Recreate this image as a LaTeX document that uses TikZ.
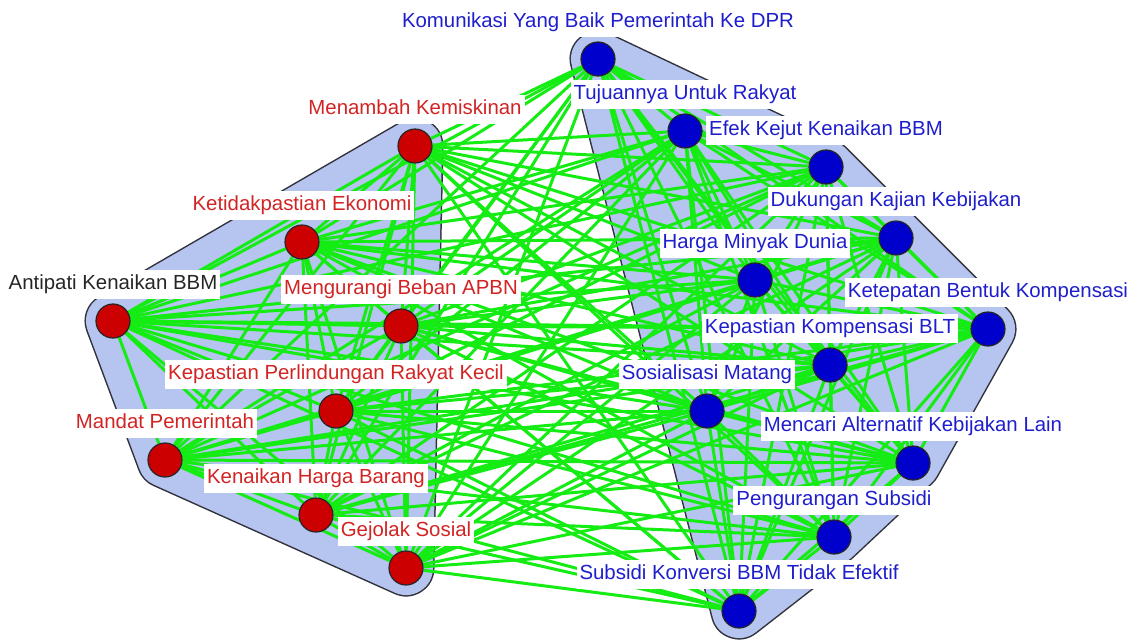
\documentclass[tikz,border=0pt]{standalone}
\usepackage{fontspec}
\setmainfont{Liberation Sans}
\usetikzlibrary{calc}
\pgfdeclarelayer{paper}
\pgfdeclarelayer{hull}
\pgfdeclarelayer{edges}
\pgfsetlayers{paper,hull,edges,main}
\definecolor{hullfill}{RGB}{182,196,240}
\definecolor{hullline}{RGB}{50,50,60}
\definecolor{edgegreen}{RGB}{20,236,20}
\definecolor{redfill}{RGB}{204,0,0}
\definecolor{bluefill}{RGB}{0,0,204}
\definecolor{redtext}{RGB}{210,36,36}
\definecolor{bluetext}{RGB}{30,30,205}
\begin{document}
\begin{tikzpicture}[x=1pt,y=-1pt,
  vtx/.style={circle, minimum size=34pt, inner sep=0pt, draw=black!85, line width=1.2pt},
  redv/.style={vtx, fill=redfill},
  bluev/.style={vtx, fill=bluefill},
  lab/.style={fill=white, inner xsep=3pt, inner ysep=5pt, text height=14.5pt, text depth=4.5pt,
              font=\fontsize{20.4}{24}\selectfont},
  redlab/.style={lab, text=redtext},
  bluelab/.style={lab, text=bluetext},
  edge/.style={draw=edgegreen, line width=3pt},
  hullout/.style={draw=hullline, fill=hullline, line join=round, line width=57pt},
  hullin/.style={draw=hullfill, fill=hullfill, line join=round, line width=54pt}]
\useasboundingbox (0,0) rectangle (1137,640);
\begin{pgfonlayer}{paper}
  \fill[white] (0,0) rectangle (1137,640);
\end{pgfonlayer}

% left group (red)
\node[redv] (n1) at (415,146) {};
\node[redv] (n2) at (302,242) {};
\node[redv] (n3) at (113,321) {};
\node[redv] (n4) at (401,326) {};
\node[redv] (n5) at (336,411) {};
\node[redv] (n6) at (165,460) {};
\node[redv] (n7) at (316,515) {};
\node[redv] (n8) at (406,568) {};
% right group (blue)
\node[bluev] (n9) at (598,59) {};
\node[bluev] (n10) at (685,131) {};
\node[bluev] (n11) at (826,167) {};
\node[bluev] (n12) at (896,238) {};
\node[bluev] (n13) at (755,280) {};
\node[bluev] (n14) at (988,329) {};
\node[bluev] (n15) at (830,365) {};
\node[bluev] (n16) at (707,411) {};
\node[bluev] (n17) at (913,463) {};
\node[bluev] (n18) at (834,537) {};
\node[bluev] (n19) at (739,611) {};

% group hulls
\begin{pgfonlayer}{hull}
  \path[hullout] (n1.center) -- (n3.center) -- (n6.center) -- (n8.center) -- cycle;
  \path[hullin]  (n1.center) -- (n3.center) -- (n6.center) -- (n8.center) -- cycle;
  \path[hullout] (n9.center) -- (n11.center) -- (n14.center) -- (n17.center) -- (n18.center) -- (n19.center) -- cycle;
  \path[hullin]  (n9.center) -- (n11.center) -- (n14.center) -- (n17.center) -- (n18.center) -- (n19.center) -- cycle;
\end{pgfonlayer}

% connectors
\begin{pgfonlayer}{edges}
  \foreach \i in {1,...,18}{
    \pgfmathtruncatemacro{\k}{\i+1}
    \foreach \j in {\k,...,19}{
      \draw[edge] (n\i) -- (n\j);
    }
  }
\end{pgfonlayer}

% labels
\node[redlab] (t1) at ($(n1)+(0,-37)$) {Menambah Kemiskinan};
\node[redlab] (t2) at ($(n2)+(0,-37)$) {Ketidakpastian Ekonomi};
\node[lab, text=black!85] (t3) at ($(n3)+(0,-37)$) {Antipati Kenaikan BBM};
\node[redlab] (t4) at ($(n4)+(0,-37)$) {Mengurangi Beban APBN};
\node[redlab] (t5) at ($(n5)+(0,-37)$) {Kepastian Perlindungan Rakyat Kecil};
\node[redlab] (t6) at ($(n6)+(0,-37)$) {Mandat Pemerintah};
\node[redlab] (t7) at ($(n7)+(0,-37)$) {Kenaikan Harga Barang};
\node[redlab] (t8) at ($(n8)+(0,-37)$) {Gejolak Sosial};
\node[bluelab] (t9) at ($(n9)+(0,-37)$) {Komunikasi Yang Baik Pemerintah Ke DPR};
\node[bluelab] (t10) at ($(n10)+(0,-37)$) {Tujuannya Untuk Rakyat};
\node[bluelab] (t11) at ($(n11)+(0,-37)$) {Efek Kejut Kenaikan BBM};
\node[bluelab] (t12) at ($(n12)+(0,-37)$) {Dukungan Kajian Kebijakan};
\node[bluelab] (t13) at ($(n13)+(0,-37)$) {Harga Minyak Dunia};
\node[bluelab] (t14) at ($(n14)+(0,-37)$) {Ketepatan Bentuk Kompensasi};
\node[bluelab] (t15) at ($(n15)+(0,-37)$) {Kepastian Kompensasi BLT};
\node[bluelab] (t16) at ($(n16)+(0,-37)$) {Sosialisasi Matang};
\node[bluelab] (t17) at ($(n17)+(0,-37)$) {Mencari Alternatif Kebijakan Lain};
\node[bluelab] (t18) at ($(n18)+(0,-37)$) {Pengurangan Subsidi};
\node[bluelab] (t19) at ($(n19)+(0,-37)$) {Subsidi Konversi BBM Tidak Efektif};
\end{tikzpicture}
\end{document}
